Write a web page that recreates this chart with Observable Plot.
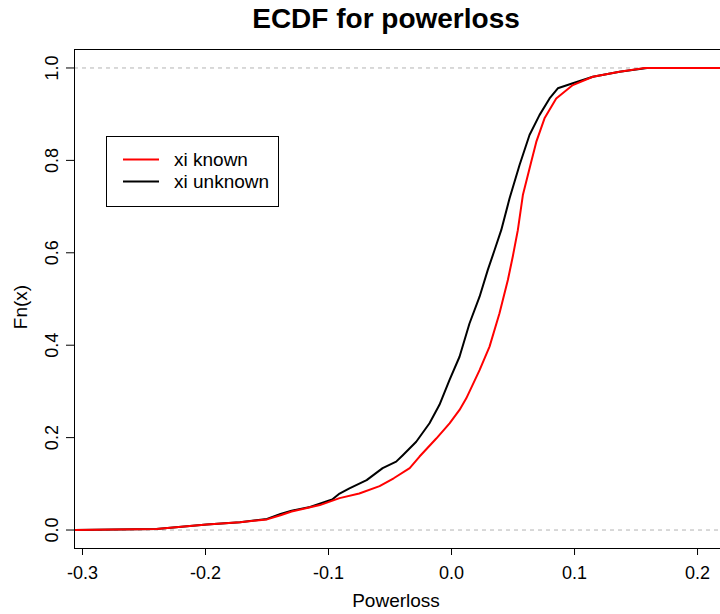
<!DOCTYPE html>
<html><head><meta charset="utf-8">
<script src="https://cdn.jsdelivr.net/npm/d3@7"></script>
<script src="https://cdn.jsdelivr.net/npm/@observablehq/plot@0.6"></script>
<style>
html,body{margin:0;padding:0;background:#fff;overflow:hidden}
#chart{position:relative;width:720px;height:614px;overflow:hidden}
</style>
</head><body><div id="chart"></div>
<script>
const title = "ECDF for powerloss";
const xLabel = "Powerloss";
const yLabel = "Fn(x)";
const seriesNames = ["xi known", "xi unknown"];
const seriesColors = ["red", "black"];
const xTicks = [-0.3, -0.2, -0.1, 0.0, 0.1, 0.2];
const yTicks = [0.0, 0.2, 0.4, 0.6, 0.8, 1.0];
const refLines = [0, 1];

// xi known (red)
const knownX = [-0.306, -0.240, -0.199, -0.172, -0.150, -0.139, -0.130, -0.107, -0.091, -0.075, -0.0585, -0.047, -0.034, -0.026, -0.0124, -0.0016, 0.0065, 0.012, 0.0228, 0.0309, 0.039, 0.0458, 0.0498, 0.0539, 0.058, 0.0648, 0.0689, 0.0756, 0.0851, 0.0986, 0.1149, 0.1366, 0.157, 0.222];
const knownF = [0.000, 0.002, 0.012, 0.017, 0.023, 0.032, 0.040, 0.054, 0.069, 0.079, 0.095, 0.112, 0.134, 0.159, 0.198, 0.231, 0.260, 0.285, 0.346, 0.397, 0.469, 0.541, 0.592, 0.649, 0.725, 0.797, 0.840, 0.891, 0.934, 0.963, 0.981, 0.992, 1.000, 1.000];

// xi unknown (black)
const unknownX = [-0.306, -0.240, -0.199, -0.172, -0.150, -0.139, -0.130, -0.115, -0.097, -0.091, -0.083, -0.069, -0.056, -0.045, -0.0396, -0.0287, -0.0179, -0.0098, -0.0016, 0.0065, 0.0146, 0.0228, 0.0295, 0.035, 0.0404, 0.0472, 0.0553, 0.0634, 0.0715, 0.0797, 0.0864, 0.0986, 0.1149, 0.1366, 0.159];
const unknownF = [0.000, 0.002, 0.012, 0.017, 0.024, 0.035, 0.042, 0.050, 0.066, 0.079, 0.090, 0.108, 0.134, 0.148, 0.162, 0.191, 0.231, 0.271, 0.325, 0.375, 0.447, 0.505, 0.563, 0.606, 0.649, 0.718, 0.790, 0.855, 0.898, 0.934, 0.956, 0.967, 0.981, 0.992, 1.000];

const knownRows = knownX.map((x, i) => ({x, F: knownF[i]}));
const unknownRows = unknownX.map((x, i) => ({x, F: unknownF[i]}));

const font = "'Liberation Sans', Arial, Helvetica, sans-serif";

const plot = Plot.plot({
  width: 720, height: 614,
  marginLeft: 74, marginRight: -3, marginTop: 49, marginBottom: 66,
  style: {fontFamily: font, background: "white", color: "black"},
  x: {domain: [-0.3065, 0.2211], label: null},
  y: {domain: [-0.04, 1.04], label: null},
  marks: [
    Plot.ruleY(refLines, {stroke: "#b3b3b3", strokeDasharray: "4,4", strokeWidth: 1}),
    Plot.axisX({ticks: xTicks, tickSize: 7, tickPadding: 11, fontSize: 18, tickFormat: d => d.toFixed(1), label: null, stroke: "black"}),
    Plot.axisY({ticks: yTicks, tickSize: 8, tickFormat: () => "", label: null, stroke: "black"}),
    Plot.text(yTicks, {y: d => d, frameAnchor: "left", text: d => d.toFixed(1), rotate: -90, dx: -22.5, fontSize: 18, textAnchor: "middle", lineAnchor: "middle", fill: "black"}),
    Plot.line(unknownRows, {x: "x", y: "F", stroke: seriesColors[1], strokeWidth: 2, clip: true}),
    Plot.line(knownRows, {x: "x", y: "F", stroke: seriesColors[0], strokeWidth: 2, clip: true}),
    Plot.frame({stroke: "black", strokeWidth: 1})
  ]
});

const svg = d3.select(plot);
svg.append("text").attr("x", 386).attr("y", 28).attr("text-anchor", "middle")
  .attr("font-size", 28).attr("font-weight", "bold").attr("font-family", font).attr("fill", "black").text(title);
svg.append("text").attr("x", 396).attr("y", 607).attr("text-anchor", "middle")
  .attr("font-size", 19).attr("font-family", font).attr("fill", "black").text(xLabel);
svg.append("text").attr("transform", "translate(27,307) rotate(-90)").attr("text-anchor", "middle")
  .attr("font-size", 19).attr("font-family", font).attr("fill", "black").text(yLabel);

const lg = svg.append("g");
lg.append("rect").attr("x", 106.5).attr("y", 136.5).attr("width", 172).attr("height", 70)
  .attr("fill", "white").attr("stroke", "black").attr("stroke-width", 1);
seriesNames.forEach((name, i) => {
  const y = 159.5 + i * 22;
  lg.append("line").attr("x1", 123).attr("x2", 159).attr("y1", y).attr("y2", y)
    .attr("stroke", seriesColors[i]).attr("stroke-width", 2);
  lg.append("text").attr("x", 174).attr("y", y + 6.5).attr("font-size", 19)
    .attr("text-anchor", "start")
    .attr("font-family", font).attr("fill", "black").text(name);
});

document.getElementById("chart").appendChild(plot);
</script>
</body></html>
